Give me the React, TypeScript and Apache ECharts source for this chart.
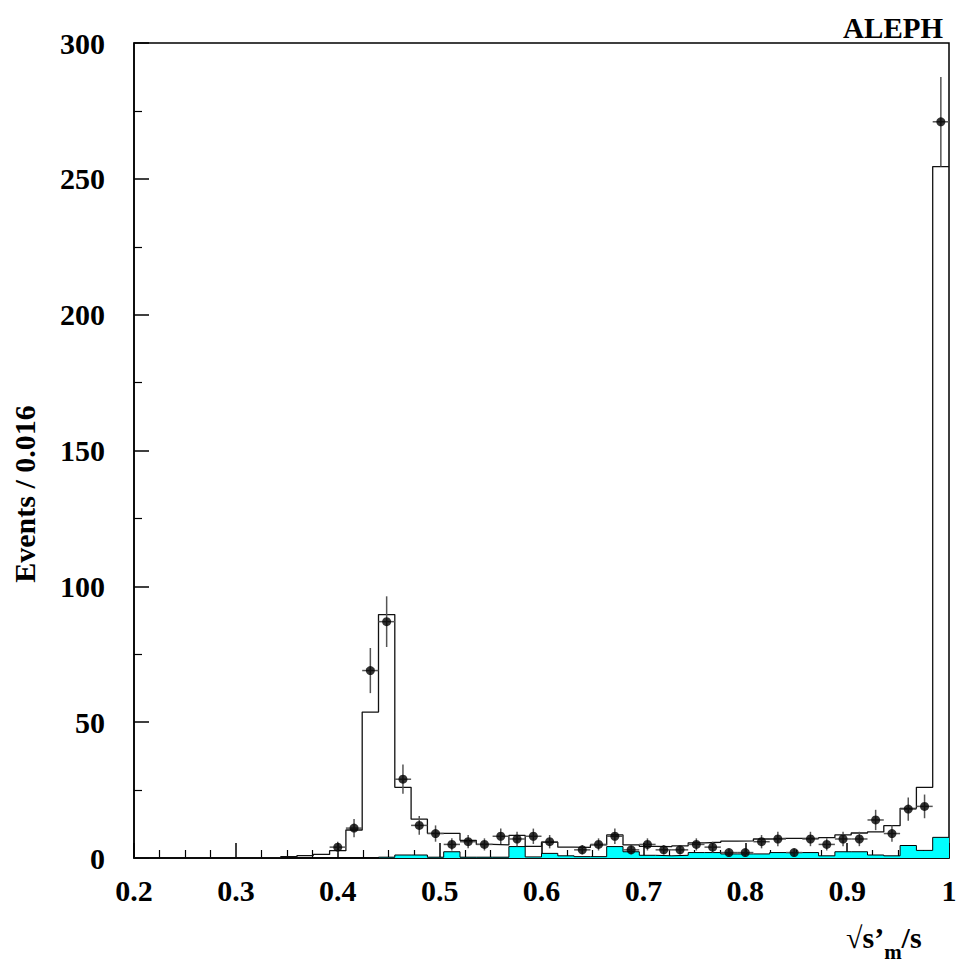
import React, { useEffect, useRef } from 'react';
import * as echarts from 'echarts';

const X_MIN = 0.2;
const X_MAX = 1.0;
const BIN_WIDTH = 0.016;

// observed events per bin (50 bins of 0.016 from 0.2 to 1.0)
const dataCounts = [
  0, 0, 0, 0, 0, 0, 0, 0, 0, 0,
  0, 0, 4, 11, 69, 87, 29, 12, 9, 5,
  6, 5, 8, 7, 8, 6, 0, 3, 5, 8,
  3, 5, 3, 3, 5, 4, 2, 2, 6, 7,
  2, 7, 5, 7, 7, 14, 9, 18, 19, 271,
];

// total Monte Carlo expectation
const mcTotal = [
  0, 0, 0, 0, 0, 0, 0, 0.1, 0.2, 0.5,
  0.9, 1.3, 2.7, 10.3, 53.7, 89.6, 26, 14.3, 9.1, 9.1,
  6.5, 5, 4.8, 8.3, 4.3, 5.8, 4, 3.9, 4.8, 8.5,
  4.8, 4.3, 4.2, 4.5, 5.6, 5.8, 6.2, 6.3, 7, 7.2,
  7.2, 7.2, 7.5, 8.5, 9.2, 9.6, 11.9, 18.3, 26, 254.5,
];

// background (cyan filled)
const bkgCyan = [
  0, 0, 0, 0, 0, 0, 0, 0, 0, 0,
  0, 0, 0, 0, 0, 0.3, 1.1, 1.1, 0.3, 2.3,
  0.3, 0.3, 0.3, 4.2, 0.4, 1.7, 0.8, 0.5, 0.5, 4.2,
  2.3, 1.0, 0.8, 1.0, 2.0, 2.0, 1.5, 1.5, 1.5, 2.0,
  2.0, 2.0, 0.8, 2.3, 2.3, 1.1, 0.8, 4.6, 2.8, 7.6,
];

const xTickLabels: Record<string, string> = {
  '0.2': '0.2', '0.3': '0.3', '0.4': '0.4', '0.5': '0.5', '0.6': '0.6',
  '0.7': '0.7', '0.8': '0.8', '0.9': '0.9', '1': '1',
};

const FONT = '"Liberation Serif", "DejaVu Serif", serif';

function stepData(values: number[]) {
  const pts: number[][] = values.map((v, i) => [X_MIN + BIN_WIDTH * i, v]);
  pts.push([X_MAX, values[values.length - 1]]);
  return pts;
}

export default function App() {
  const ref = useRef<HTMLDivElement>(null);

  useEffect(() => {
    if (!ref.current) return;
    const chart = echarts.init(ref.current, undefined, { renderer: 'svg' });

    const points = dataCounts
      .map((v, i) => [X_MIN + BIN_WIDTH * (i + 0.5), v, Math.sqrt(v)])
      .filter((p) => p[1] > 0);

    const option: any = {
      animation: false,
      backgroundColor: '#fff',
      grid: {
        left: 134,
        top: 43,
        width: 815,
        height: 815,
        show: true,
        borderColor: '#000',
        borderWidth: 1.5,
        backgroundColor: 'transparent',
      },
      xAxis: {
        type: 'value',
        min: X_MIN,
        max: X_MAX,
        interval: 0.1,
        axisLine: { show: true, lineStyle: { color: '#000', width: 1.5 } },
        axisTick: { show: true, inside: true, length: 15, lineStyle: { color: '#000', width: 1.5 } },
        minorTick: { show: true, splitNumber: 4, length: 8, lineStyle: { color: '#000', width: 1.2 } },
        splitLine: { show: false },
        axisLabel: {
          margin: 17,
          color: '#000',
          fontFamily: FONT,
          fontWeight: 'bold',
          fontSize: 30,
          formatter: (v: number) => xTickLabels[String(Math.round(v * 10) / 10)] ?? '',
        },
      },
      yAxis: {
        type: 'value',
        min: 0,
        max: 300,
        interval: 50,
        axisLine: { show: true, lineStyle: { color: '#000', width: 1.5 } },
        axisTick: { show: true, inside: true, length: 15, lineStyle: { color: '#000', width: 1.5 } },
        minorTick: { show: true, splitNumber: 2, length: 8, lineStyle: { color: '#000', width: 1.2 } },
        splitLine: { show: false },
        axisLabel: {
          margin: 29,
          color: '#000',
          fontFamily: FONT,
          fontWeight: 'bold',
          fontSize: 30,
        },
      },
      series: [
        {
          type: 'line',
          step: 'end',
          data: stepData(bkgCyan),
          showSymbol: false,
          symbol: 'none',
          lineStyle: { color: '#000', width: 1 },
          areaStyle: { color: '#00ffff', opacity: 1 },
          z: 1,
        },
        {
          type: 'line',
          step: 'end',
          data: stepData(mcTotal),
          showSymbol: false,
          symbol: 'none',
          lineStyle: { color: '#111', width: 1.3 },
          z: 2,
        },
        {
          type: 'custom',
          data: points,
          z: 3,
          renderItem: (_params: any, api: any) => {
            const x = api.value(0);
            const y = api.value(1);
            const e = api.value(2);
            const c = api.coord([x, y]);
            const t = api.coord([x, y + e]);
            const b = api.coord([x, y - e]);
            const l = api.coord([x - BIN_WIDTH / 2, y]);
            const r = api.coord([x + BIN_WIDTH / 2, y]);
            return {
              type: 'group',
              children: [
                { type: 'line', shape: { x1: c[0], y1: t[1], x2: c[0], y2: b[1] }, style: { stroke: '#555', lineWidth: 1.5 } },
                { type: 'line', shape: { x1: l[0], y1: c[1], x2: r[0], y2: c[1] }, style: { stroke: '#555', lineWidth: 1.5 } },
              ],
            };
          },
        },
        {
          type: 'scatter',
          data: points.map((p) => [p[0], p[1]]),
          symbol: 'circle',
          symbolSize: 9,
          itemStyle: { color: '#000' },
          z: 4,
        },
      ],
      graphic: [
        {
          type: 'text',
          x: 943,
          y: 28,
          style: { text: 'ALEPH', font: `bold 29px ${FONT}`, fill: '#000', align: 'right', verticalAlign: 'middle' },
        },
        {
          type: 'text',
          x: 24,
          y: 494,
          rotation: Math.PI / 2,
          style: { text: 'Events / 0.016', font: `bold 30px ${FONT}`, fill: '#000', align: 'center', verticalAlign: 'middle' },
        },
        {
          type: 'text',
          x: 846,
          y: 942,
          style: {
            text: '{a|√s’}{b|m}{a|/s}',
            align: 'left',
            verticalAlign: 'middle',
            rich: {
              a: { fontFamily: FONT, fontWeight: 'bold', fontSize: 30, fill: '#000', lineHeight: 40, verticalAlign: 'top' },
              b: { fontFamily: FONT, fontWeight: 'bold', fontSize: 21, fill: '#000', lineHeight: 40, verticalAlign: 'bottom' },
            },
          },
        },
      ],
    };

    chart.setOption(option);
    return () => chart.dispose();
  }, []);

  return <div ref={ref} style={{ position: 'fixed', left: 0, top: 0, width: 961, height: 965 }} />;
}
